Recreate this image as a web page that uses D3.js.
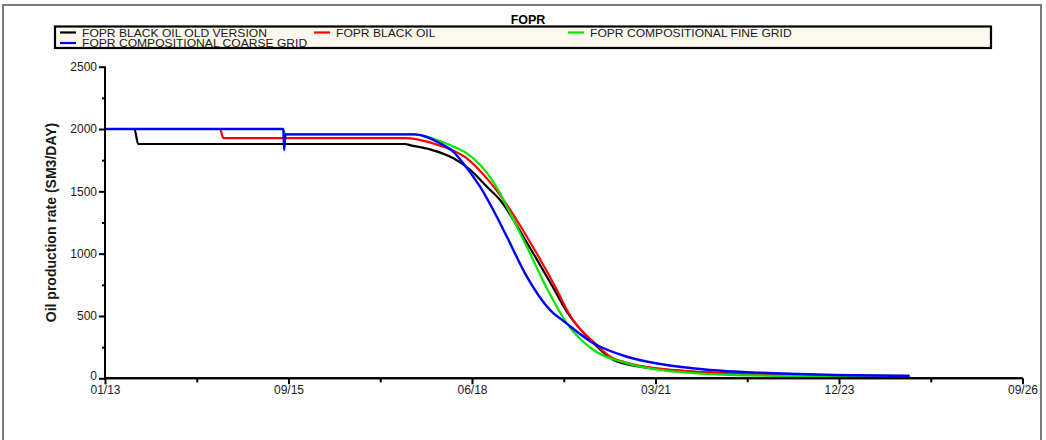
<!DOCTYPE html>
<html>
<head>
<meta charset="utf-8">
<script src="https://cdn.jsdelivr.net/npm/d3@7"></script>
<style>
  html, body { margin: 0; padding: 0; background: #fff; }
  svg { display: block; font-family: "Liberation Sans", Arial, sans-serif; }
</style>
</head>
<body>
<svg id="chart" width="1046" height="440"></svg>
<script>
// Simulation start date; time is stored in days from this date
const startDate = new Date(2013, 0, 1);

// FOPR BLACK OIL OLD VERSION
const oldDays  = [0, 160, 181, 1635, 1662, 1771, 1899, 1990, 2081, 2153, 2280, 2444, 2517, 2662, 2771, 2916, 3025, 3298, 3570, 3934, 4384];
const oldRates = [2000, 2000, 1880, 1880, 1871, 1837, 1765, 1673, 1537, 1430, 1136, 722, 534, 281, 147, 93, 74, 45, 30, 22, 18];

// FOPR BLACK OIL
const boDays  = [0, 627, 645, 1640, 1699, 1844, 1972, 2081, 2153, 2299, 2462, 2523, 2680, 2753, 2844, 3025, 3298, 3570, 3934, 4384];
const boRates = [2000, 2000, 1927, 1927, 1917, 1858, 1765, 1604, 1470, 1136, 710, 532, 267, 173, 125, 77, 45, 30, 22, 18];

// FOPR COMPOSITIONAL FINE GRID
const fineDays  = [0, 972, 981, 1680, 1754, 1880, 1972, 2044, 2153, 2190, 2299, 2408, 2517, 2662, 2844, 3025, 3298, 3750, 4384];
const fineRates = [2000, 2000, 1957, 1957, 1938, 1871, 1805, 1713, 1484, 1376, 1055, 722, 441, 227, 120, 67, 34, 18, 14];

// FOPR COMPOSITIONAL COARSE GRID
const coarseDays  = [0, 972, 976, 984, 1690, 1826, 1899, 1953, 2044, 2135, 2190, 2299, 2444, 2480, 2662, 2844, 3025, 3298, 3570, 3934, 4384];
const coarseRates = [2000, 2000, 1831, 1957, 1957, 1885, 1817, 1724, 1537, 1296, 1136, 815, 521, 481, 281, 173, 115, 67, 45, 29, 21];

const seriesNames = ["FOPR BLACK OIL OLD VERSION", "FOPR BLACK OIL", "FOPR COMPOSITIONAL FINE GRID", "FOPR COMPOSITIONAL COARSE GRID"];
const seriesColors = ["#000000", "#ff0000", "#00e600", "#0000ff"];

const majorDayTicks = [0, 1000, 2000, 3000, 4000, 5000];
const minorDayTicks = [500, 1500, 2500, 3500, 4500];
const majorRateTicks = [0, 500, 1000, 1500, 2000, 2500];
const minorRateTicks = [250, 750, 1250, 1750, 2250];

const svg = d3.select("#chart");

// outer frame
svg.append("rect")
  .attr("x", 3).attr("y", 5).attr("width", 1038).attr("height", 450)
  .attr("fill", "none").attr("stroke", "#7a7a7a").attr("stroke-width", 2);

const x = d3.scaleLinear().domain([0, 5000]).range([105, 1022.5]);
const y = d3.scaleLinear().domain([0, 2500]).range([378.3, 66.7]);

const fmt = d3.timeFormat("%m/%y");
const dayLabel = d => fmt(d3.timeDay.offset(startDate, d));

// title
svg.append("text")
  .attr("x", 528).attr("y", 24)
  .attr("text-anchor", "middle")
  .attr("font-size", 12.5).attr("font-weight", "bold")
  .text("FOPR");

// series lines
const series = [
  {days: oldDays, rates: oldRates},
  {days: boDays, rates: boRates},
  {days: fineDays, rates: fineRates},
  {days: coarseDays, rates: coarseRates}
];

const line = d3.line()
  .x(d => x(d[0]))
  .y(d => y(d[1]))
  .curve(d3.curveMonotoneX);

series.forEach((s, i) => {
  const pts = s.days.map((d, k) => [d, s.rates[k]]);
  svg.append("path")
    .attr("d", line(pts))
    .attr("fill", "none")
    .attr("stroke", seriesColors[i])
    .attr("stroke-width", i === 3 ? 2.4 : 2.2)
    .attr("stroke-linejoin", "round");
});

// x axis
const xAxis = svg.append("g").attr("transform", "translate(0,378.3)");
xAxis.call(d3.axisBottom(x).tickValues(majorDayTicks).tickFormat(dayLabel).tickSize(6).tickPadding(1));
xAxis.append("g").call(d3.axisBottom(x).tickValues(minorDayTicks).tickFormat("").tickSize(4));
xAxis.selectAll(".domain").attr("stroke", "#000").attr("stroke-width", 2).attr("d", `M105,0H1022.5`);
xAxis.selectAll(".tick line").attr("stroke", "#000").attr("stroke-width", 2);
xAxis.selectAll(".tick text").attr("font-size", 12).attr("fill", "#1a1a1a")
  .attr("font-family", "Liberation Sans, Arial, sans-serif");

// y axis
const yAxis = svg.append("g").attr("transform", "translate(105,0)");
yAxis.call(d3.axisLeft(y).tickValues(majorRateTicks).tickFormat(d3.format("d")).tickSize(6).tickPadding(2));
yAxis.append("g").call(d3.axisLeft(y).tickValues(minorRateTicks).tickFormat("").tickSize(3));
yAxis.selectAll(".domain").attr("stroke", "#000").attr("stroke-width", 2).attr("d", "M0,66.7V378.3");
yAxis.selectAll(".tick line").attr("stroke", "#000").attr("stroke-width", 2);
yAxis.selectAll(".tick text").attr("font-size", 12).attr("fill", "#1a1a1a")
  .attr("font-family", "Liberation Sans, Arial, sans-serif");
// lift the zero label a touch so it clears the first date label
yAxis.selectAll(".tick text").filter(d => d === 0).attr("dy", "0.1em");

// y axis title
svg.append("text")
  .attr("transform", "translate(56,222.5) rotate(-90)")
  .attr("text-anchor", "middle")
  .attr("font-size", 14).attr("font-weight", "bold")
  .attr("fill", "#1a1a1a")
  .text("Oil production rate (SM3/DAY)");

// legend
const legend = svg.append("g");
legend.append("rect")
  .attr("x", 55).attr("y", 26.5).attr("width", 936).attr("height", 21.5)
  .attr("fill", "#fdf8ee");
const legendPos = [[60, 32.5], [314, 32.5], [568, 32.5], [60, 43]];
seriesNames.forEach((name, i) => {
  const [lx, ly] = legendPos[i];
  legend.append("line")
    .attr("x1", lx).attr("x2", lx + 16).attr("y1", ly).attr("y2", ly)
    .attr("stroke", seriesColors[i]).attr("stroke-width", 2.2);
  legend.append("text")
    .attr("transform", `translate(${lx + 22},${ly + 4.3}) scale(1.1,1)`)
    .attr("font-size", 11).attr("fill", "#1a1a1a")
    .text(name);
});
legend.append("rect")
  .attr("x", 55).attr("y", 26.5).attr("width", 936).attr("height", 21.5)
  .attr("fill", "none").attr("stroke", "#000").attr("stroke-width", 2.2);
</script>
</body>
</html>
